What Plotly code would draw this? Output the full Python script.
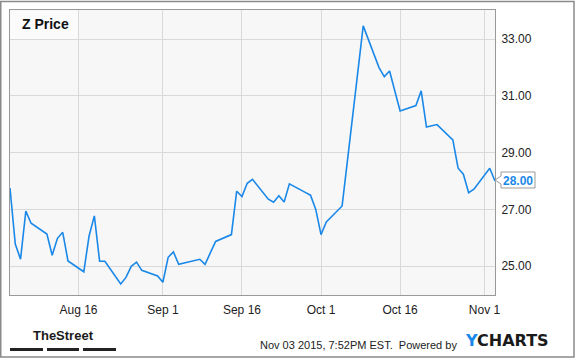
import plotly.graph_objects as go

dates = [
    "2015-08-03", "2015-08-04", "2015-08-05", "2015-08-06", "2015-08-07",
    "2015-08-10", "2015-08-11", "2015-08-12", "2015-08-13", "2015-08-14",
    "2015-08-17", "2015-08-18", "2015-08-19", "2015-08-20", "2015-08-21",
    "2015-08-24", "2015-08-25", "2015-08-26", "2015-08-27", "2015-08-28",
    "2015-08-31", "2015-09-01", "2015-09-02", "2015-09-03", "2015-09-04",
    "2015-09-08", "2015-09-09", "2015-09-10", "2015-09-11",
    "2015-09-14", "2015-09-15", "2015-09-16", "2015-09-17", "2015-09-18",
    "2015-09-21", "2015-09-22", "2015-09-23", "2015-09-24", "2015-09-25",
    "2015-09-28", "2015-09-29", "2015-09-30", "2015-10-01", "2015-10-02",
    "2015-10-05", "2015-10-06", "2015-10-07", "2015-10-08", "2015-10-09",
    "2015-10-12", "2015-10-13", "2015-10-14", "2015-10-15", "2015-10-16",
    "2015-10-19", "2015-10-20", "2015-10-21", "2015-10-22", "2015-10-23",
    "2015-10-26", "2015-10-27", "2015-10-28", "2015-10-29", "2015-10-30",
    "2015-11-02", "2015-11-03",
]
prices = [
    27.75, 25.78, 25.24, 26.94, 26.51,
    26.13, 25.38, 25.98, 26.19, 25.18,
    24.80, 26.06, 26.77, 25.17, 25.17,
    24.37, 24.60, 24.99, 25.14, 24.85,
    24.65, 24.43, 25.31, 25.50, 25.06,
    25.24, 25.06, 25.45, 25.87,
    26.11, 27.64, 27.45, 27.92, 28.06,
    27.36, 27.25, 27.48, 27.26, 27.90,
    27.60, 27.50, 27.00, 26.11, 26.56,
    27.12, 28.70, 30.30, 31.90, 33.47,
    32.00, 31.68, 31.88, 31.20, 30.47,
    30.66, 31.18, 29.90, 29.94, 29.99,
    29.45, 28.45, 28.24, 27.59, 27.71,
    28.45, 28.00,
]
x_tick_vals = ["2015-08-16", "2015-09-01", "2015-09-16", "2015-10-01", "2015-10-16", "2015-11-01"]
x_tick_text = ["Aug 16", "Sep 1", "Sep 16", "Oct 1", "Oct 16", "Nov 1"]
y_tick_vals = [25, 27, 29, 31, 33]
y_tick_text = ["25.00", "27.00", "29.00", "31.00", "33.00"]
title_text = "Z Price"
last_label = "28.00"
footer_text = "Nov 03 2015, 7:52PM EST.  Powered by"

W, H = 575, 358
L, R, T, B = 10, 80, 10, 63
PW, PH = W - L - R, H - T - B

def px(xp):
    return (xp - L) / PW

def py(yp):
    return (H - B - yp) / PH

BLUE = "#1a88e8"

fig = go.Figure()
fig.add_trace(go.Scatter(x=dates, y=prices, mode="lines",
                         line=dict(color=BLUE, width=1.6), hoverinfo="skip"))

shapes = []
# title box
shapes.append(dict(type="rect", xref="paper", yref="paper", x0=px(10.5), x1=px(79), y0=py(39), y1=py(10.5),
                   fillcolor="#fbfbfb", line=dict(width=0), layer="below"))
# outer border
shapes.append(dict(type="rect", xref="paper", yref="paper", x0=px(0.75), x1=px(574), y0=py(357), y1=py(1.5),
                   line=dict(color="#8a8a8a", width=1.5), fillcolor="rgba(0,0,0,0)"))
# TheStreet bars
for a, b in [(10, 43), (47, 79), (83, 116)]:
    shapes.append(dict(type="rect", xref="paper", yref="paper", x0=px(a), x1=px(b), y0=py(351), y1=py(348),
                       fillcolor="#222222", line=dict(width=0)))
# last value label box with arrow
pts = [(501, 172), (535, 172), (535, 188), (501, 188), (501, 184), (495, 180), (501, 176)]
path = "M " + " L ".join(f"{px(a):.5f},{py(b):.5f}" for a, b in pts) + " Z"
shapes.append(dict(type="path", xref="paper", yref="paper", path=path,
                   fillcolor="white", line=dict(color="#9a9a9a", width=1)))

annotations = [
    dict(text=f"<b>{title_text}</b>", xref="paper", yref="paper", x=px(20), y=py(24),
         xanchor="left", yanchor="middle", showarrow=False,
         font=dict(family="Liberation Sans, Arial", size=14, color="#111111")),
    dict(text=f"<b>{last_label}</b>", xref="paper", yref="paper", x=px(518), y=py(180.5),
         xanchor="center", yanchor="middle", showarrow=False,
         font=dict(family="Liberation Sans, Arial", size=12, color=BLUE)),
    dict(text="<b>TheStreet</b>", xref="paper", yref="paper", x=px(63), y=py(335),
         xanchor="center", yanchor="middle", showarrow=False,
         font=dict(family="Liberation Sans Narrow, Arial Narrow, Liberation Sans", size=13, color="#1a1a1a")),
    dict(text=footer_text, xref="paper", yref="paper", x=px(459), y=py(345),
         xanchor="right", yanchor="middle", showarrow=False,
         font=dict(family="Liberation Sans, Arial", size=11, color="#222222")),
    dict(text=f"<b><span style='color:{BLUE}'>Y</span>CHARTS</b>", xref="paper", yref="paper", x=px(463), y=py(340.5),
         xanchor="left", yanchor="middle", showarrow=False,
         font=dict(family="DejaVu Sans, Verdana", size=16, color="#1a1a1a")),
]

fig.update_layout(
    width=W, height=H,
    margin=dict(l=L, r=R, t=T, b=B, pad=0),
    paper_bgcolor="white", plot_bgcolor="#f7f7f7",
    showlegend=False, hovermode=False,
    shapes=shapes, annotations=annotations,
    xaxis=dict(type="date", range=["2015-08-03", "2015-11-03"],
               tickvals=x_tick_vals, ticktext=x_tick_text,
               showgrid=True, gridcolor="#d9d9d9", gridwidth=1,
               showline=True, linecolor="#999999", linewidth=1, mirror=True,
               ticks="outside", ticklen=4, tickcolor="rgba(0,0,0,0)",
               tickfont=dict(family="Liberation Sans, Arial", size=12, color="#222222"),
               zeroline=False, fixedrange=True),
    yaxis=dict(range=[23.98, 34.03], side="right",
               tickvals=y_tick_vals, ticktext=y_tick_text,
               showgrid=True, gridcolor="#d9d9d9", gridwidth=1,
               showline=True, linecolor="#999999", linewidth=1, mirror=True,
               ticks="outside", ticklen=3, tickcolor="rgba(0,0,0,0)",
               tickfont=dict(family="Liberation Sans, Arial", size=12, color="#222222"),
               zeroline=False, fixedrange=True),
)

fig.write_html("out.html", config={"displayModeBar": False})
